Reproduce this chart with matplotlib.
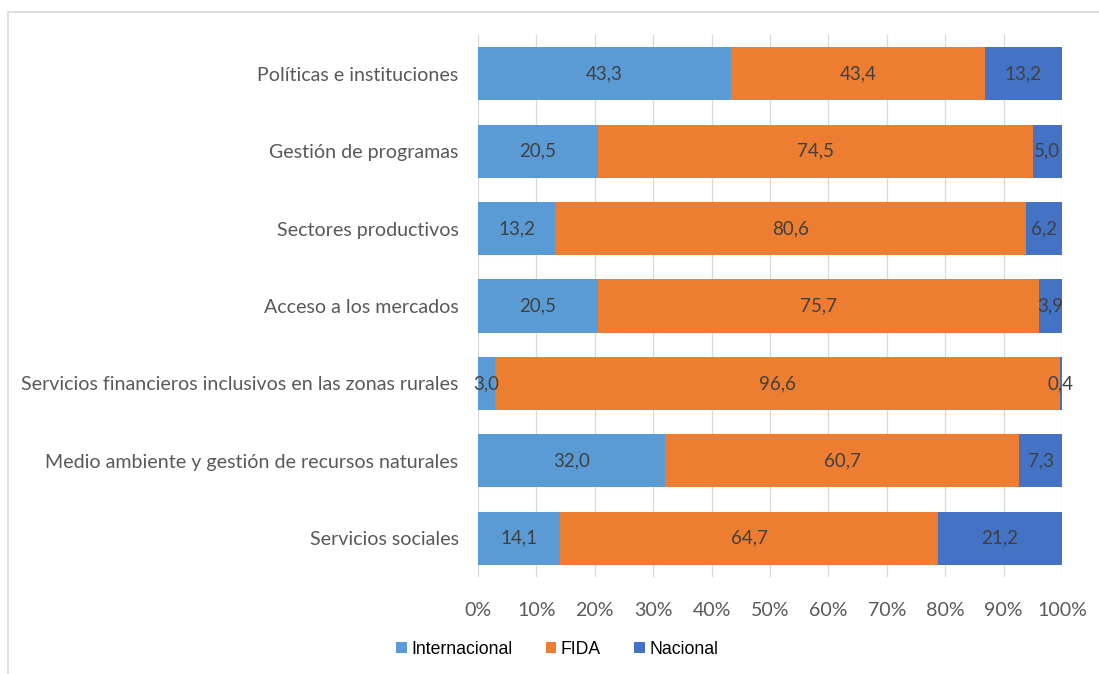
import numpy as np
import matplotlib.pyplot as plt
from matplotlib.patches import Rectangle

# datos (de arriba hacia abajo)
categorias = [
    "Políticas e instituciones",
    "Gestión de programas",
    "Sectores productivos",
    "Acceso a los mercados",
    "Servicios financieros inclusivos en las zonas rurales",
    "Medio ambiente y gestión de recursos naturales",
    "Servicios sociales",
]
internacional = [43.3, 20.5, 13.2, 20.5, 3.0, 32.0, 14.1]
fida = [43.4, 74.5, 80.6, 75.7, 96.6, 60.7, 64.7]
nacional = [13.2, 5.0, 6.2, 3.9, 0.4, 7.3, 21.2]

series = [("Internacional", internacional, "#5b9bd5"),
          ("FIDA", fida, "#ed7d31"),
          ("Nacional", nacional, "#4472c4")]

fig = plt.figure(figsize=(10.99, 6.74), dpi=100)
ax = fig.add_axes([0.4349, 0.1439, 0.5314, 0.8041])

# borde del área del gráfico
fig.patches.append(Rectangle((8 / 1099, -0.1), 1.2, (674 - 12) / 674 + 0.1,
                             transform=fig.transFigure, fill=False,
                             edgecolor="#d9d9d9", linewidth=1.2))

total = np.array(internacional) + np.array(fida) + np.array(nacional)
y = np.arange(len(categorias))
izq = np.zeros(len(categorias))
for nombre, vals, color in series:
    v = np.array(vals) / total * 100
    ax.barh(y, v, left=izq, height=0.687, color=color, label=nombre, zorder=3)
    for yi, xi, w, raw in zip(y, izq, v, vals):
        ax.text(xi + w / 2, yi, f"{raw:.1f}".replace(".", ","), ha="center", va="center",
                fontsize=13.5, color="#404040", family="Lato", zorder=4)
    izq += v

ax.set_xlim(0, 100)
ax.set_ylim(len(categorias) - 0.5, -0.5)
ax.set_xticks(np.arange(0, 101, 10))
ax.set_xticklabels([f"{t}%" for t in range(0, 101, 10)])
ax.set_yticks(y)
ax.set_yticklabels(categorias)
ax.tick_params(axis="both", length=0, labelsize=14.1, labelcolor="#595959")
ax.tick_params(axis="x", pad=18)
ax.tick_params(axis="y", pad=14)
for lab in ax.get_xticklabels() + ax.get_yticklabels():
    lab.set_family("Lato")
ax.grid(axis="x", color="#d9d9d9", linewidth=0.9, zorder=0)
for s in ax.spines.values():
    s.set_visible(False)

leg = fig.legend(loc="center", bbox_to_anchor=(557 / 1099, 1 - 649 / 674), ncol=3, frameon=False,
                 prop={"family": "Liberation Sans", "size": 12.7}, handlelength=0.6, handleheight=0.6,
                 handletextpad=0.25, columnspacing=1.9)

fig.savefig("out.png", dpi=100, facecolor="white")
